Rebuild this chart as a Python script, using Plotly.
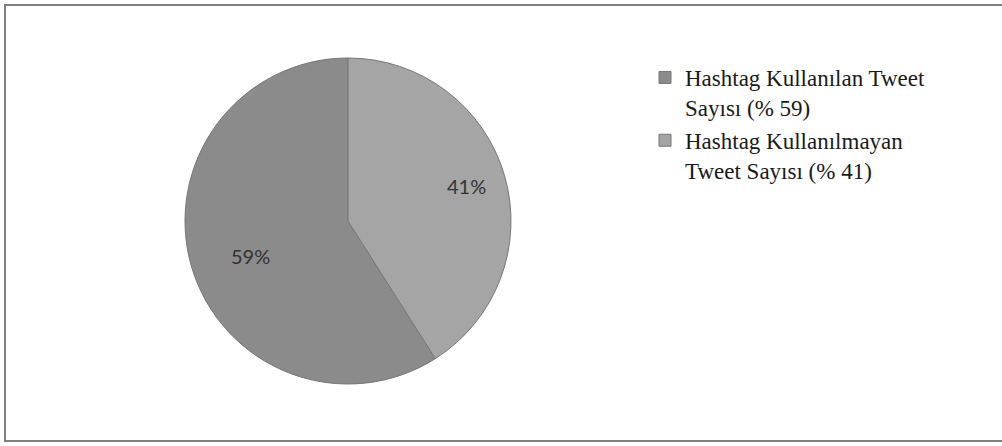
import math
import plotly.graph_objects as go

labels = ["Hashtag Kullanılan Tweet<br>Sayısı (% 59)", "Hashtag Kullanılmayan<br>Tweet Sayısı (% 41)"]
values = [59, 41]
pct_text = ["59%", "41%"]
colors = ["#8b8b8b", "#a5a5a5"]

W, H = 1002, 446
cx, cy, r = 348, 221, 163

total = sum(values)
start = 360.0 * values[1] / total  # 41% slice occupies the top-right, 59% follows clockwise

fig = go.Figure(go.Pie(
    labels=labels,
    values=values,
    sort=False,
    direction="clockwise",
    rotation=start,
    marker=dict(colors=colors, line=dict(color="#777777", width=1)),
    textinfo="none",
    domain=dict(x=[(cx - r) / W, (cx + r) / W], y=[(H - cy - r) / H, (H - cy + r) / H]),
    hoverinfo="label+percent",
))

# percentage labels placed along each slice's mid-angle
ann = []
a0 = start
for v, t in zip(values, pct_text):
    span = 360.0 * v / total
    mid = math.radians(a0 + span / 2)
    rr = 0.76 * r
    px = cx + rr * math.sin(mid)
    py = cy - rr * math.cos(mid)
    ann.append(dict(x=px / W, y=1 - py / H, xref="paper", yref="paper", text=t,
                    showarrow=False, font=dict(family="Lato", size=20, color="#333333")))
    a0 += span

fig.update_layout(
    width=W, height=H,
    margin=dict(l=0, r=0, t=0, b=0),
    paper_bgcolor="white",
    plot_bgcolor="white",
    showlegend=True,
    annotations=ann,
    legend=dict(
        x=645 / W, xanchor="left",
        y=1 - 56 / H, yanchor="top",
        valign="top",
        font=dict(family="Liberation Serif", size=23, color="#1a1a1a"),
        itemwidth=30,
        tracegroupgap=0,
        bgcolor="rgba(0,0,0,0)",
    ),
    shapes=[dict(type="rect", xref="paper", yref="paper",
                 x0=5 / W, x1=1.01, y0=1 - 441 / H, y1=1 - 5 / H,
                 line=dict(color="#7f7f7f", width=2))],
)

fig.write_html("out.html", config={"displayModeBar": False},
               post_script="document.body.style.margin='0';")
